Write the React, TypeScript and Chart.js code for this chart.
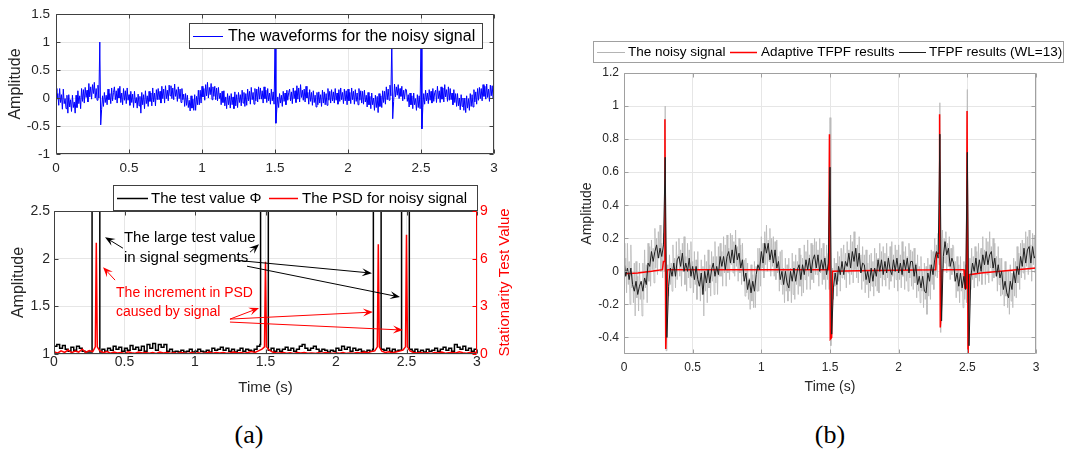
import React, { useEffect, useRef } from "react";
import { Chart, registerables } from "chart.js";

Chart.register(...registerables);

const FONT = 'Arial, "Liberation Sans", Helvetica, sans-serif';
const SERIF = '"Liberation Serif", "Times New Roman", serif';
const TICK_COLOR = "#262626";

// ---------------- tick labels ----------------
const timeTicks = [0, 0.5, 1, 1.5, 2, 2.5, 3];
const waveTicks = [-1, -0.5, 0, 0.5, 1, 1.5];
const phiTicks = [1, 1.5, 2, 2.5];
const stationarityTicks = [0, 3, 6, 9];
const filterTicks = [-0.4, -0.2, 0, 0.2, 0.4, 0.6, 0.8, 1, 1.2];

// ---------------- noisy signal (sampled every 0.00625 s) ----------------
const NOISY_STEP = 0.00625;
const noisySignal = [
  0.17, -0.02, 0.08, -0.13, 0.17, -0.08, 0.06, -0.2, 0.16, -0.1, -0.01, -0.19, 0.05, -0.27, 0.06, -0.16,
  -0.03, -0.24, 0.05, -0.17, -0.07, -0.27, 0.05, -0.17, 0.13, -0.1, 0.04, -0.19, 0.17, -0.06, 0.15, -0.09,
  0.19, 0.01, 0.14, -0.07, 0.26, 0.02, 0.2, -0.02, 0.24, 0.08, 0.28, 0.0, 0.17, -0.04, 0.23, 0.0,
  1.0, -0.48, -0.2, 0.04, -0.15, 0.1, -0.08, 0.05, -0.12, 0.16, -0.03, 0.08, -0.1, 0.18, -0.05, 0.1,
  0.2, -0.03, 0.13, -0.09, 0.17, 0.0, 0.21, -0.08, 0.09, -0.12, 0.17, -0.04, 0.13, -0.1, 0.18, -0.04,
  0.06, -0.13, 0.12, -0.08, 0.07, -0.17, 0.12, -0.09, 0.01, -0.18, 0.07, -0.14, 0.03, -0.27, 0.1, -0.12,
  0.06, -0.19, 0.13, -0.1, 0.04, -0.15, 0.12, -0.06, 0.09, -0.14, 0.18, -0.07, 0.09, -0.14, 0.15, -0.03,
  0.17, -0.03, 0.12, -0.09, 0.21, -0.01, 0.16, -0.09, 0.22, -0.01, 0.14, -0.05, 0.23, 0.04, 0.22, -0.01,
  0.18, -0.03, 0.25, 0.03, 0.15, -0.06, 0.2, -0.01, 0.16, -0.08, 0.17, -0.03, 0.07, -0.15, 0.08, -0.13,
  0.05, -0.17, -0.04, -0.23, 0.04, -0.18, -0.02, -0.22, 0.06, -0.22, 0.03, -0.12, 0.14, -0.12, 0.14, -0.09,
  0.21, 0.02, 0.17, -0.04, 0.24, 0.04, 0.28, 0.0, 0.19, 0.06, 0.26, -0.03, 0.2, 0.03, 0.21, -0.03,
  0.18, -0.05, 0.19, -0.01, 0.09, -0.12, 0.12, -0.08, 0.13, -0.14, 0.02, -0.19, 0.08, -0.12, 0.04, -0.18,
  0.08, -0.12, 0.02, -0.19, 0.11, -0.14, 0.06, -0.17, 0.1, -0.08, 0.06, -0.14, 0.14, -0.09, 0.1, -0.15,
  0.08, -0.13, 0.16, -0.05, 0.12, -0.11, 0.19, -0.03, 0.1, -0.11, 0.17, -0.05, 0.16, -0.07, 0.2, -0.02,
  0.18, -0.02, 0.13, -0.09, 0.2, -0.01, 0.14, -0.08, 0.17, -0.05, 0.09, -0.11, 0.16, -0.05, 0.11, -0.11,
  0.93, -0.45, -0.2, 0.02, -0.17, 0.08, -0.09, 0.05, -0.15, 0.12, -0.06, 0.09, -0.12, 0.14, -0.04, 0.1,
  0.16, -0.05, 0.11, -0.1, 0.18, -0.01, 0.13, -0.08, 0.22, -0.02, 0.18, -0.07, 0.24, 0.01, 0.14, -0.04,
  0.16, -0.07, 0.21, 0.0, 0.1, -0.11, 0.15, -0.06, 0.1, -0.13, 0.13, -0.08, 0.05, -0.16, 0.1, -0.12,
  0.11, -0.09, 0.06, -0.15, 0.14, -0.09, 0.11, -0.12, 0.08, -0.13, 0.17, -0.04, 0.12, -0.09, 0.15, -0.05,
  0.11, -0.09, 0.17, -0.04, 0.09, -0.11, 0.15, -0.06, 0.18, -0.03, 0.1, -0.1, 0.16, -0.05, 0.13, -0.12,
  0.16, -0.05, 0.1, -0.1, 0.18, -0.03, 0.12, -0.11, 0.15, -0.06, 0.09, -0.12, 0.17, -0.04, 0.13, -0.09,
  0.12, -0.11, 0.14, -0.07, 0.05, -0.16, 0.1, -0.12, 0.03, -0.19, 0.09, -0.12, 0.0, -0.22, 0.05, -0.17,
  0.03, -0.26, 0.08, -0.15, 0.04, -0.17, 0.13, -0.08, 0.12, -0.11, 0.2, -0.03, 0.16, -0.04, 0.23, 0.04,
  1.02, -0.37, -0.06, 0.25, 0.02, 0.2, 0.05, 0.24, -0.01, 0.17, 0.03, 0.21, -0.05, 0.14, -0.02, 0.16,
  0.15, -0.06, 0.06, -0.16, 0.09, -0.12, 0.04, -0.19, 0.09, -0.12, -0.01, -0.22, 0.06, -0.17, 0.04, -0.19,
  1.1, -0.55, -0.17, 0.08, -0.11, 0.14, -0.05, 0.09, -0.1, 0.15, -0.04, 0.12, -0.09, 0.17, -0.06, 0.1,
  0.14, -0.08, 0.21, -0.01, 0.13, -0.08, 0.2, -0.02, 0.18, -0.07, 0.24, 0.02, 0.15, -0.06, 0.2, -0.04,
  0.17, -0.03, 0.09, -0.12, 0.15, -0.08, 0.08, -0.15, 0.08, -0.14, 0.0, -0.21, 0.06, -0.15, 0.0, -0.22,
  0.0, -0.26, 0.04, -0.18, -0.01, -0.22, 0.08, -0.15, 0.06, -0.16, 0.15, -0.07, 0.11, -0.11, 0.17, -0.04,
  0.19, -0.01, 0.17, -0.05, 0.24, 0.03, 0.21, -0.02, 0.25, 0.01, 0.16, -0.06, 0.23, 0.04, 0.22, -0.01,
  0.1,
];

// ---------------- TFPF results (WL=13), sampled every 0.0125 s ----------------
const TFPF_STEP = 0.0125;
const tfpfResults = [
  0.07, -0.03, 0.02, -0.05, 0.02, -0.08, -0.12, -0.06,
  -0.14, -0.09, -0.06, -0.12, -0.04, -0.08, 0.05, 0.03,
  0.12, 0.06, 0.12, 0.16, 0.08, 0.14, 0.09, 0.16,
  0.69, -0.4, -0.09, 0.02, -0.03, 0.05, -0.03, 0.07,
  0.09, 0.03, 0.11, 0.0, 0.05, 0.0, 0.08, -0.03,
  0.03, -0.05, 0.03, -0.05, -0.09, -0.01, -0.14, 0.0,
  -0.07, 0.01, -0.07, 0.01, 0.05, -0.03, 0.03, -0.02,
  0.09, 0.03, 0.09, 0.01, 0.09, 0.12, 0.05, 0.13,
  0.05, 0.16, 0.07, 0.11, 0.02, 0.07, -0.06, -0.01,
  -0.11, -0.05, -0.13, -0.06, -0.12, -0.02, 0.04, 0.01,
  0.12, 0.05, 0.17, 0.11, 0.17, 0.07, 0.13, 0.05,
  0.13, 0.02, 0.06, -0.05, 0.0, -0.08, 0.0, -0.07,
  -0.1, 0.0, -0.06, 0.02, -0.06, 0.01, 0.04, -0.05,
  0.04, -0.02, 0.07, 0.01, 0.08, -0.01, 0.07, 0.1,
  0.02, 0.1, 0.0, 0.07, 0.01, 0.08, -0.02, 0.05,
  0.63, -0.38, -0.1, -0.01, -0.08, 0.03, -0.02, 0.06,
  -0.02, 0.06, 0.03, 0.11, 0.02, 0.12, 0.06, 0.14,
  0.03, 0.11, -0.01, 0.05, 0.04, -0.05, 0.0, -0.07,
  0.02, -0.06, 0.02, -0.03, 0.07, 0.0, 0.07, -0.02,
  0.06, -0.01, 0.08, 0.01, -0.02, 0.07, 0.0, 0.08,
  -0.01, 0.05, -0.02, 0.07, 0.01, 0.08, -0.01, 0.06,
  0.06, -0.03, 0.04, -0.08, -0.03, -0.1, -0.03, -0.12,
  -0.13, -0.01, -0.06, 0.04, -0.02, 0.07, 0.12, 0.08,
  0.83, -0.3, 0.09, 0.18, 0.1, 0.14, 0.03, 0.08,
  0.05, -0.06, -0.01, -0.09, -0.01, -0.1, -0.03, -0.11,
  0.72, -0.45, -0.04, 0.05, 0.0, 0.08, -0.01, 0.07,
  0.0, 0.1, 0.04, 0.12, 0.04, 0.1, 0.12, 0.02,
  0.08, -0.03, 0.04, -0.04, 0.0, -0.11, -0.06, -0.13,
  -0.16, -0.06, -0.11, 0.0, -0.07, 0.03, -0.02, 0.09,
  0.03, 0.14, 0.05, 0.13, 0.15, 0.05, 0.15, 0.08,
  0.1,
];

// ---------------- Adaptive TFPF results (breakpoints) ----------------
const adaptiveTimes = [
  0, 0.1, 0.2, 0.28, 0.287, 0.293, 0.298, 0.304, 0.31, 0.316, 0.6, 1.0,
  1.49, 1.496, 1.502, 1.512, 1.518, 1.8, 2.27, 2.276, 2.294, 2.298, 2.303,
  2.31, 2.316, 2.476, 2.482, 2.494, 2.498, 2.505, 2.514, 2.6, 2.8, 3.0,
];
const adaptiveResults = [
  -0.015, -0.01, 0.0, 0.01, 0.06, 0.06, 0.92, -0.47, -0.3, 0.01, 0.01, 0.01,
  0.01, 0.83, -0.41, -0.4, 0.0, 0.005, 0.01, 0.11, 0.11, 0.95, -0.34,
  -0.25, 0.01, 0.01, -0.1, -0.1, 0.97, -0.55, -0.02, -0.01, 0.005, 0.02,
];

// ---------------- test value Φ (every 0.02 s) ----------------
const PHI_STEP = 0.02;
const testValuePhi = [
  1.08, 1.1, 1.06, 1.09, 1.05, 1.03, 1.07, 1.04, 1.08, 1.06,
  1.03, 1.02, 1.02, 1.02, 1.02, 1.02, 1.02, 1.05, 1.03, 1.06,
  1.04, 1.08, 1.05, 1.07, 1.03, 1.06, 1.04, 1.09, 1.05, 1.07,
  1.04, 1.08, 1.03, 1.1, 1.06, 1.11, 1.04, 1.1, 1.07, 1.1,
  1.03, 1.05, 1.02, 1.03, 1.02, 1.04, 1.02, 1.03, 1.05, 1.02,
  1.03, 1.05, 1.03, 1.02, 1.04, 1.02, 1.06, 1.04, 1.05, 1.07,
  1.04, 1.06, 1.03, 1.05, 1.02, 1.04, 1.06, 1.03, 1.05, 1.04,
  1.03, 1.05, 1.08, 1.1, 1.1, 1.1, 1.04, 1.06, 1.03, 1.05,
  1.03, 1.05, 1.07, 1.04, 1.06, 1.03, 1.05, 1.08, 1.1, 1.06,
  1.04, 1.06, 1.08, 1.05, 1.03, 1.05, 1.04, 1.02, 1.04, 1.03,
  1.06, 1.04, 1.08, 1.05, 1.07, 1.03, 1.06, 1.04, 1.05, 1.03,
  1.02, 1.04, 1.03, 1.05, 1.05, 1.05, 1.05, 1.04, 1.06, 1.03,
  1.05, 1.03, 1.04, 1.04, 1.04, 1.04, 1.05, 1.03, 1.05, 1.02,
  1.04, 1.02, 1.05, 1.03, 1.04, 1.06, 1.03, 1.05, 1.07, 1.04,
  1.06, 1.03, 1.1, 1.07, 1.05, 1.08, 1.04, 1.06, 1.03, 1.05,
  1.04,
];
// signal segments where Φ is far above the axis
const phiSignalWindows = [
  [0.27, 0.325],
  [1.465, 1.52],
  [2.265, 2.32],
  [2.465, 2.52],
];
const PHI_OFF_SCALE = 30;

// ---------------- PSD for the noisy signal (every 0.025 s, right axis) ----------------
const PSD_STEP = 0.025;
const psdNoise = [
  0.15, 0.05, 0.2, 0.1, 0.25, 0.08, 0.18, 0.12, 0.3,
  0.1, 0.22, 0.15, 0.4, 0.2, 0.08, 0.15, 0.05,
  0.12, 0.06, 0.1, 0.04, 0.14, 0.08, 0.05, 0.12,
  0.07, 0.1, 0.05, 0.09, 0.04, 0.12, 0.06, 0.1,
  0.05, 0.08, 0.04, 0.1, 0.06, 0.03, 0.09, 0.05,
  0.08, 0.04, 0.07, 0.12, 0.05, 0.09, 0.06, 0.1,
  0.05, 0.08, 0.12, 0.06, 0.1, 0.05, 0.09, 0.15,
  0.1, 0.2, 0.3, 0.4, 0.25, 0.12, 0.08, 0.06,
  0.1, 0.05, 0.08, 0.04, 0.09, 0.06, 0.1, 0.05,
  0.07, 0.04, 0.08, 0.05, 0.1, 0.06, 0.04, 0.08,
  0.05, 0.09, 0.04, 0.07, 0.05, 0.1, 0.06, 0.12,
  0.08, 0.15, 0.2, 0.35, 0.18, 0.1, 0.14, 0.08,
  0.12, 0.18, 0.25, 0.4, 0.2, 0.1, 0.06, 0.09,
  0.05, 0.08, 0.04, 0.1, 0.06, 0.12, 0.05, 0.08,
  0.1, 0.06, 0.14, 0.08, 0.05, 0.1, 0.07, 0.12,
];
const psdPeakTimes = [0.3, 1.5, 2.3, 2.5];
const psdPeakValues = [7.0, 5.8, 6.9, 7.5];
const PSD_PEAK_BASE = 0.45;
const PSD_PEAK_HALF = 0.007;

// ---------------- annotations of panel (a) (data units) ----------------
const blackNotes = [
  { text: "The large test value", t: 0.496, v: 2.215 },
  { text: "in signal segments", t: 0.496, v: 2.005 },
];
const blackArrows = [
  [0.489, 2.11, 0.362, 2.225],
  [1.39, 2.068, 1.454, 2.152],
  [1.284, 1.984, 2.255, 1.848],
  [1.369, 1.921, 2.454, 1.597],
];
const redNotes = [
  { text: "The increment in PSD", t: 0.44, v: 1.639 },
  { text: "caused by signal", t: 0.44, v: 1.44 },
];
const redArrows = [
  [0.433, 1.775, 0.348, 1.911],
  [1.248, 1.366, 1.454, 1.482],
  [1.248, 1.366, 2.262, 1.44],
  [1.248, 1.335, 2.475, 1.251],
];

// ---------------- derived tables ----------------
const sampleTime = (i: number, step: number) => Math.round(i * step * 100000) / 100000;
const noisyPoints = noisySignal.map((v, i) => ({ x: sampleTime(i, NOISY_STEP), y: v }));
const tfpfPoints = tfpfResults.map((v, i) => ({ x: sampleTime(i, TFPF_STEP), y: v }));
const adaptivePoints = adaptiveTimes.map((t, i) => ({ x: t, y: adaptiveResults[i] }));

const phiPoints: { x: number; y: number }[] = [];
testValuePhi.forEach((v, i) => {
  const t = sampleTime(i, PHI_STEP);
  if (!phiSignalWindows.some(([a, b]) => t > a && t < b)) phiPoints.push({ x: t, y: v });
});
phiSignalWindows.forEach(([a, b]) => {
  phiPoints.push({ x: a, y: PHI_OFF_SCALE });
  phiPoints.push({ x: b, y: testValuePhi[Math.floor(b / PHI_STEP + 1e-6)] });
});
phiPoints.sort((p, q) => p.x - q.x);

const psdPoints: { x: number; y: number }[] = [];
psdNoise.forEach((v, i) => {
  const t = sampleTime(i, PSD_STEP);
  if (!psdPeakTimes.some((p) => Math.abs(t - p) < 0.012)) psdPoints.push({ x: t, y: v });
});
psdPeakTimes.forEach((p, k) => {
  psdPoints.push({ x: p - PSD_PEAK_HALF, y: PSD_PEAK_BASE });
  psdPoints.push({ x: p, y: psdPeakValues[k] });
  psdPoints.push({ x: p + PSD_PEAK_HALF, y: PSD_PEAK_BASE });
});
psdPoints.sort((p, q) => p.x - q.x);

// ---------------- helpers ----------------
const fmt = (v: number) => String(Math.round(v * 100) / 100);

function linearAxis(o: any) {
  const isX = o.axis === "x";
  return {
    type: "linear",
    position: o.position,
    min: o.min,
    max: o.max,
    afterBuildTicks: (s: any) => {
      s.ticks = o.values.map((v: number) => ({ value: v }));
    },
    afterFit: (s: any) => {
      if (isX) s.height = o.size;
      else s.width = o.size;
    },
    grid: o.grid === false ? { display: false, drawTicks: false } : { color: o.grid, drawTicks: false, lineWidth: 1 },
    border: { display: false },
    ticks: {
      padding: o.pad,
      color: o.color || TICK_COLOR,
      font: { family: FONT, size: o.font },
      maxRotation: 0,
      autoSkip: false,
      callback: (v: number) => fmt(v),
    },
    title: o.title
      ? {
          display: true,
          text: o.title,
          color: TICK_COLOR,
          font: { family: FONT, size: o.titleFont },
          padding: isX ? { top: 0, bottom: o.titlePad } : { top: o.titlePad, bottom: 0 },
        }
      : { display: false },
  };
}

function crisp(v: number) {
  return Math.round(v) + 0.5;
}

function framePlugin(o: { color: string; rightColor?: string; rightScale?: string; tick: number; width?: number }) {
  return {
    id: "frame",
    afterDatasetsDraw(chart: any) {
      const { ctx, chartArea } = chart;
      const L = crisp(chartArea.left), R = crisp(chartArea.right) - 1;
      const T = crisp(chartArea.top), B = crisp(chartArea.bottom) - 1;
      const tl = o.tick;
      ctx.save();
      ctx.lineWidth = o.width || 1;
      ctx.strokeStyle = o.color;
      ctx.beginPath();
      ctx.moveTo(R, B); ctx.lineTo(L, B); ctx.lineTo(L, T); ctx.lineTo(R, T);
      if (!o.rightColor) ctx.lineTo(R, B);
      chart.scales.x.ticks.forEach((t: any) => {
        const px = crisp(chart.scales.x.getPixelForValue(t.value));
        ctx.moveTo(px, B); ctx.lineTo(px, B - tl);
        ctx.moveTo(px, T); ctx.lineTo(px, T + tl);
      });
      chart.scales.y.ticks.forEach((t: any) => {
        const py = crisp(chart.scales.y.getPixelForValue(t.value));
        ctx.moveTo(L, py); ctx.lineTo(L + tl, py);
        if (!o.rightScale) { ctx.moveTo(R, py); ctx.lineTo(R - tl, py); }
      });
      ctx.stroke();
      if (o.rightColor && o.rightScale) {
        const s = chart.scales[o.rightScale];
        ctx.strokeStyle = o.rightColor;
        ctx.beginPath();
        ctx.moveTo(R, T); ctx.lineTo(R, B);
        s.ticks.forEach((t: any) => {
          const py = crisp(s.getPixelForValue(t.value));
          ctx.moveTo(R, py); ctx.lineTo(R - tl, py);
        });
        ctx.stroke();
      }
      ctx.restore();
    },
  };
}

type LegendItem = { color: string; width: number; x0: number; x1: number; textX: number; label: string };
function boxLegendPlugin(box: { x: number; y: number; w: number; h: number }, items: LegendItem[], font: number, border: string) {
  return {
    id: "boxLegend",
    afterDraw(chart: any) {
      const ctx = chart.ctx;
      ctx.save();
      ctx.fillStyle = "#ffffff";
      ctx.fillRect(box.x, box.y, box.w, box.h);
      ctx.strokeStyle = border;
      ctx.lineWidth = 1;
      ctx.strokeRect(box.x + 0.5, box.y + 0.5, box.w - 1, box.h - 1);
      const cy = box.y + box.h / 2;
      items.forEach((it) => {
        ctx.strokeStyle = it.color;
        ctx.lineWidth = it.width;
        ctx.beginPath();
        ctx.moveTo(it.x0, Math.round(cy) + 0.5);
        ctx.lineTo(it.x1, Math.round(cy) + 0.5);
        ctx.stroke();
        ctx.fillStyle = "#000000";
        ctx.font = `${font}px ${FONT}`;
        ctx.textAlign = "left";
        ctx.textBaseline = "middle";
        ctx.fillText(it.label, it.textX, cy + 0.5);
      });
      ctx.restore();
    },
  };
}

function drawArrow(ctx: CanvasRenderingContext2D, x1: number, y1: number, x2: number, y2: number, color: string) {
  const ang = Math.atan2(y2 - y1, x2 - x1);
  const len = 10, wid = 8;
  ctx.save();
  ctx.strokeStyle = color;
  ctx.fillStyle = color;
  ctx.lineWidth = 1;
  ctx.beginPath();
  ctx.moveTo(x1, y1);
  ctx.lineTo(x2 - Math.cos(ang) * len * 0.6, y2 - Math.sin(ang) * len * 0.6);
  ctx.stroke();
  ctx.translate(x2, y2);
  ctx.rotate(ang);
  ctx.beginPath();
  ctx.moveTo(0, 0);
  ctx.lineTo(-len, -wid / 2);
  ctx.lineTo(-len * 0.6, 0);
  ctx.lineTo(-len, wid / 2);
  ctx.closePath();
  ctx.fill();
  ctx.restore();
}

const annotationPlugin = {
  id: "notes",
  afterDraw(chart: any) {
    const { ctx } = chart;
    const xs = chart.scales.x, ys = chart.scales.y;
    const px = (t: number) => xs.getPixelForValue(t);
    const py = (v: number) => ys.getPixelForValue(v);
    ctx.save();
    ctx.textAlign = "left";
    ctx.textBaseline = "middle";
    ctx.font = `15px ${FONT}`;
    ctx.fillStyle = "#000000";
    blackNotes.forEach((n) => ctx.fillText(n.text, px(n.t), py(n.v)));
    ctx.font = `14px ${FONT}`;
    ctx.fillStyle = "#ff0000";
    redNotes.forEach((n) => ctx.fillText(n.text, px(n.t), py(n.v)));
    ctx.restore();
    blackArrows.forEach(([a, b, c, d]) => drawArrow(ctx, px(a), py(b), px(c), py(d), "#000000"));
    redArrows.forEach(([a, b, c, d]) => drawArrow(ctx, px(a), py(b), px(c), py(d), "#ff0000"));
    // right axis title (reads bottom to top)
    const area = chart.chartArea;
    ctx.save();
    ctx.translate(505, (area.top + area.bottom) / 2);
    ctx.rotate(-Math.PI / 2);
    ctx.font = `15px ${FONT}`;
    ctx.fillStyle = "#ff0000";
    ctx.textAlign = "center";
    ctx.textBaseline = "middle";
    ctx.fillText("Stationarity Test Value", 0, 0);
    ctx.restore();
  },
};

const baseOptions = {
  responsive: false,
  animation: false,
  devicePixelRatio: 1,
  events: [],
};

// ---------------- chart builders ----------------
function buildWaveform(): any {
  return {
    type: "line",
    data: {
      datasets: [
        { data: noisyPoints, borderColor: "#0000ff", borderWidth: 1, pointRadius: 0, tension: 0 },
      ],
    },
    options: {
      ...baseOptions,
      layout: { padding: { top: 10, right: 16, left: 0, bottom: 0 } },
      plugins: { legend: { display: false }, tooltip: { enabled: false } },
      scales: {
        x: linearAxis({ axis: "x", min: 0, max: 3, values: timeTicks, size: 26, pad: 6, font: 13.5, grid: "#e6e6e6" }),
        y: linearAxis({ axis: "y", min: -1, max: 1.5, values: waveTicks, size: 56, pad: 6, font: 13.5, grid: "#e6e6e6", title: "Amplitude", titleFont: 16, titlePad: 5.5 }),
      },
    },
    plugins: [
      framePlugin({ color: "#404040", tick: 4 }),
      boxLegendPlugin(
        { x: 189, y: 23, w: 294, h: 26 },
        [{ color: "#0000ff", width: 1, x0: 193, x1: 223, textX: 228, label: "The waveforms for the noisy signal" }],
        16,
        "#404040"
      ),
    ],
  };
}

function buildTestValue(): any {
  return {
    type: "line",
    data: {
      datasets: [
        { data: psdPoints, yAxisID: "y2", borderColor: "#ff0000", borderWidth: 1.5, pointRadius: 0, tension: 0, order: 0 },
        { data: phiPoints, yAxisID: "y", stepped: true, borderColor: "#000000", borderWidth: 1.5, pointRadius: 0, order: 1 },
      ],
    },
    options: {
      ...baseOptions,
      layout: { padding: { top: 31, right: 0, left: 0, bottom: 0 } },
      plugins: { legend: { display: false }, tooltip: { enabled: false } },
      scales: {
        x: linearAxis({ axis: "x", min: 0, max: 3, values: timeTicks, size: 46, pad: 0, font: 14, grid: "#e6e6e6", title: "Time (s)", titleFont: 15, titlePad: 3 }),
        y: linearAxis({ axis: "y", position: "left", min: 1, max: 2.5, values: phiTicks, size: 54, pad: 4, font: 14, grid: "#e6e6e6", title: "Amplitude", titleFont: 16, titlePad: 9 }),
        y2: linearAxis({ axis: "y", position: "right", min: 0, max: 9, values: stationarityTicks, size: 63, pad: 3, font: 14, grid: false, color: "#ff0000" }),
      },
    },
    plugins: [
      framePlugin({ color: "#404040", rightColor: "#ff0000", rightScale: "y2", tick: 4 }),
      annotationPlugin,
      boxLegendPlugin(
        { x: 113, y: 5, w: 365, h: 26 },
        [
          { color: "#000000", width: 1.5, x0: 117, x1: 148, textX: 151, label: "The test value \u03A6" },
          { color: "#ff0000", width: 1.5, x0: 269, x1: 298, textX: 302, label: "The PSD for noisy signal" },
        ],
        15,
        "#404040"
      ),
    ],
  };
}

function buildFilter(): any {
  return {
    type: "line",
    data: {
      datasets: [
        { data: tfpfPoints, borderColor: "#1e1e1e", borderWidth: 1, pointRadius: 0, tension: 0, order: 0 },
        { data: adaptivePoints, borderColor: "#ff0000", borderWidth: 1.5, pointRadius: 0, tension: 0, order: 1 },
        { data: noisyPoints, borderColor: "#b8b8b8", borderWidth: 0.8, pointRadius: 0, tension: 0, order: 2 },
      ],
    },
    options: {
      ...baseOptions,
      layout: { padding: { top: 43, right: 33, left: 0, bottom: 0 } },
      plugins: { legend: { display: false }, tooltip: { enabled: false } },
      scales: {
        x: linearAxis({ axis: "x", min: 0, max: 3, values: timeTicks, size: 46, pad: 6, font: 12, grid: "#e6e6e6", title: "Time (s)", titleFont: 14, titlePad: 4.5 }),
        y: linearAxis({ axis: "y", min: -0.5, max: 1.2, values: filterTicks, size: 64, pad: 5, font: 12, grid: "#e6e6e6", title: "Amplitude", titleFont: 14, titlePad: 18.5 }),
      },
    },
    plugins: [
      framePlugin({ color: "#a0a0a0", tick: 4 }),
      boxLegendPlugin(
        { x: 33, y: 11, w: 471, h: 22 },
        [
          { color: "#b4b4b4", width: 1, x0: 37, x1: 65, textX: 68, label: "The noisy signal" },
          { color: "#ff0000", width: 1.5, x0: 170, x1: 197, textX: 201, label: "Adaptive TFPF results" },
          { color: "#1e1e1e", width: 1, x0: 339, x1: 366, textX: 369, label: "TFPF results (WL=13)" },
        ],
        13.5,
        "#a0a0a0"
      ),
    ],
  };
}

function ChartCanvas(props: { left: number; top: number; width: number; height: number; build: () => any }) {
  const ref = useRef<HTMLCanvasElement>(null);
  useEffect(() => {
    const chart = new Chart(ref.current as HTMLCanvasElement, props.build());
    return () => chart.destroy();
  }, []);
  return (
    <canvas
      ref={ref}
      width={props.width}
      height={props.height}
      style={{ position: "absolute", left: props.left, top: props.top, width: props.width, height: props.height }}
    />
  );
}

export default function App() {
  const labelStyle: React.CSSProperties = {
    position: "absolute",
    top: 435,
    transform: "translate(-50%, -50%)",
    fontFamily: SERIF,
    fontSize: 26,
    color: "#000",
    whiteSpace: "nowrap",
  };
  return (
    <div style={{ position: "absolute", left: 0, top: 0, width: 1069, height: 454, background: "#ffffff", overflow: "hidden" }}>
      <ChartCanvas left={0} top={0} width={510} height={180} build={buildWaveform} />
      <ChartCanvas left={0} top={180} width={540} height={220} build={buildTestValue} />
      <ChartCanvas left={560} top={30} width={509} height={370} build={buildFilter} />
      <div style={{ ...labelStyle, left: 249 }}>(a)</div>
      <div style={{ ...labelStyle, left: 830 }}>(b)</div>
    </div>
  );
}
